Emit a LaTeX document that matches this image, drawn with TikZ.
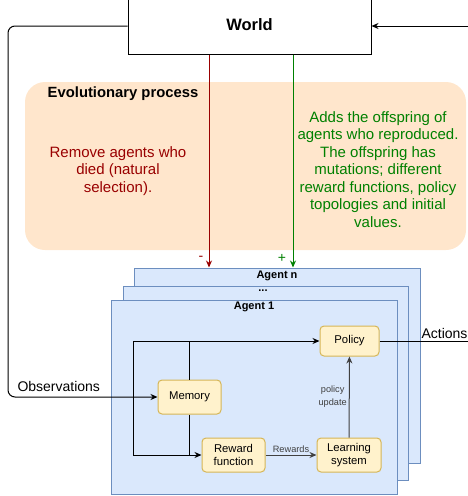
\documentclass[tikz,border=0pt]{standalone}
\usepackage{fontspec}
\setmainfont{Liberation Sans}
\usetikzlibrary{arrows.meta}
\definecolor{orfill}{HTML}{FFE6CC}
\definecolor{bluefill}{HTML}{DAE8FC}
\definecolor{bluestroke}{HTML}{6C8EBF}
\definecolor{yelfill}{HTML}{FFF2CC}
\definecolor{yelstroke}{HTML}{D6B656}
\definecolor{redc}{HTML}{990000}
\definecolor{greenc}{HTML}{008000}
\tikzset{
  arr/.style={-{Stealth[length=7pt,width=6pt]}},
  agentbox/.style={draw=bluestroke, fill=bluefill, line width=1pt, minimum width=286, minimum height=194, inner sep=0},
  inner/.style={draw=yelstroke, fill=yelfill, line width=1pt, rounded corners=4, inner sep=0, align=center, font=\fontsize{11.3}{13.5}\selectfont},
  agenttitle/.style={font=\bfseries\fontsize{11}{13}\selectfont, inner sep=0},
  small/.style={font=\fontsize{9.2}{13}\selectfont, text=black!75},
}
\begin{document}
\begin{tikzpicture}[x=1pt,y=-1pt, line width=1pt]
\useasboundingbox (0,0) rectangle (468,496);
\clip (0,0) rectangle (468,496);
% world
\node[draw, fill=white, minimum width=243, minimum height=56, inner sep=0] (world) at (249.5,26) {};
\node[font=\bfseries\fontsize{16.5}{18}\selectfont, inner sep=0] (worldt) at (249.5,25) {World};
% evolutionary process
\node[fill=orfill, rounded corners=20, minimum width=441, minimum height=168, inner sep=0] (evo) at (245.5,166) {};
\node[font=\bfseries\fontsize{14.8}{17}\selectfont, inner sep=0] (evot) at (123,94) {Evolutionary process};
\node[text=redc, align=center, font=\fontsize{15}{17.6}\selectfont, inner sep=0] (redt) at (118,171) {Remove agents who\\died (natural\\selection).};
\node[text=greenc, align=center, font=\fontsize{15}{17.5}\selectfont, inner sep=0] (greent) at (378,169.5) {Adds the offspring of\\agents who reproduced.\\The offspring has\\mutations; different\\reward functions, policy\\topologies and initial\\values.};
% agents
\node[agentbox, minimum width=286, minimum height=195] (agentn) at (277,365.5) {};
\node[agentbox, minimum width=285] (agentm) at (265.5,383) {};
\node[agentbox] (agent1) at (254,397) {};
\node[agenttitle] (tn) at (277,276) {Agent n};
\node[agenttitle] (tm) at (263,291) {...};
\node[agenttitle] (t1) at (254,307) {Agent 1};
% red / green arrows
\coordinate (rx) at (209,0);
\coordinate (gx) at (293,0);
\draw[redc, arr] (world.south -| rx) -- (agentn.north -| rx);
\draw[greenc, arr] (world.south -| gx) -- (agentn.north -| gx);
\node[text=redc, font=\fontsize{14}{16}\selectfont, inner sep=0] (minus) at (201,258) {-};
\node[text=greenc, font=\fontsize{14}{16}\selectfont, inner sep=0] (plus) at (282,258) {+};
% inner nodes
\node[inner, minimum width=59, minimum height=30] (policy) at (349.5,341) {Policy};
\node[inner, minimum width=63, minimum height=34] (memory) at (189.5,397) {Memory};
\node[inner, minimum width=63, minimum height=34] (reward) at (233.5,455) {Reward\\function};
\node[inner, minimum width=64, minimum height=34] (learning) at (349,455) {Learning\\system};
% observations loop
\draw[arr, rounded corners=7] (world.west) -- (8,26) -- (8,397) -- (memory.west);
\node[anchor=west, font=\fontsize{14}{16}\selectfont, inner sep=0] (obs) at (17,386) {Observations};
\coordinate (oj) at (133,397);
\draw[arr] (oj) |- (policy.west);
\draw[arr] (oj) |- (reward.west);
\draw (memory.north) -- (memory.north |- policy.west);
\draw (memory.south) -- (memory.south |- reward.west);
\draw[arr, black!75] (reward) -- (learning) node[midway, above, small, inner sep=1.5pt, text=black!75] {Rewards};
\draw[arr, black!75] (learning) -- (policy) node[midway, left, small, align=center, inner sep=2pt, font=\fontsize{9.2}{13}\selectfont] {policy\\update};
% actions
\coordinate (actend) at (468,341);
\draw (policy.east) -- (actend);
\node[anchor=base east, font=\fontsize{14}{16}\selectfont, inner sep=0] (act) at (468,338) {Actions};
% world input
\coordinate (rin) at (468,26);
\draw[arr] (rin) -- (world.east);
\end{tikzpicture}
\end{document}
